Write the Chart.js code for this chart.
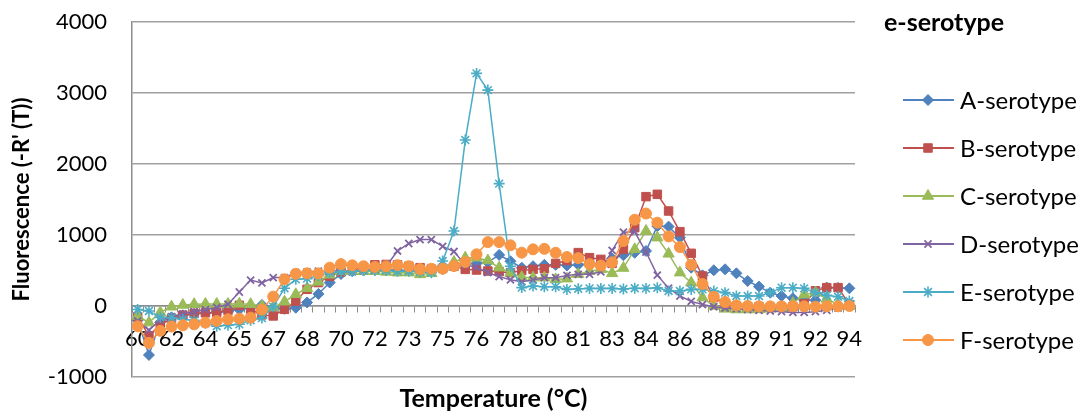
<!DOCTYPE html>
<html><head><meta charset="utf-8">
<script src="https://cdn.jsdelivr.net/npm/chart.js@4.4.0/dist/chart.umd.min.js"></script>
<style>html,body{margin:0;padding:0;background:#fff;}canvas{display:block;}</style>
</head><body>
<canvas id="c" width="1083" height="414"></canvas>
<script>
// ---- data ----
const tickLabels = ['60','62','64','65','67','68','70','72','73','75','76','78','80','81','83','84','86','88','89','91','92','94'];
const seriesNames = ['A-serotype','B-serotype','C-serotype','D-serotype','E-serotype','F-serotype'];
const legendTitle = 'e-serotype';
const xTitle = 'Temperature (°C)';
const yTitle = "Fluorescence (-R' (T))";
const yTicks = [-1000, 0, 1000, 2000, 3000, 4000];

const seriesA = [-200,-690,-230,-160,-130,-110,-100,-90,-70,-50,-20,15,-20,-40,-25,50,170,330,450,490,
  500,510,510,500,500,500,510,520,560,590,600,615,720,630,540,560,580,580,570,580,
  590,600,670,715,750,775,1125,1118,963,540,432,503,517,460,352,273,188,141,110,85,
  80,259,255,249];
const seriesB = [-150,-420,-265,-175,-130,-105,-95,-90,-60,10,-47,-125,-140,-47,70,235,330,420,480,510,
  540,580,585,580,560,540,520,530,560,516,507,493,484,470,500,516,525,600,640,752,
  681,657,600,798,1103,1540,1573,1338,1047,742,423,120,30,0,-10,-10,-20,-20,-10,30,
  215,259,259,20];
const seriesC = [-141,-234,-90,-10,15,25,28,28,28,30,25,0,-20,60,165,250,340,440,490,490,
  490,490,480,470,470,445,460,540,620,680,680,640,540,465,405,400,399,375,385,446,
  490,516,460,535,798,1056,963,735,470,329,118,0,-40,-50,-50,-50,-40,-30,40,160,
  190,100,23,0];
const seriesD = [-211,-340,-200,-150,-110,-80,-50,-20,24,197,365,325,400,400,470,480,490,500,490,480,
  500,520,560,775,880,935,935,840,767,580,545,470,414,370,340,366,399,399,431,446,
  446,480,783,1040,1045,760,435,250,141,65,20,-10,-30,-40,-50,-60,-70,-80,-90,-90,
  -80,-60,-30,-10];
const seriesE = [-50,-70,-160,-165,-190,-200,-240,-285,-270,-258,-200,-170,-9,250,376,385,430,470,480,490,
  500,500,500,490,490,480,470,634,1056,2337,3276,3041,1723,560,259,281,272,272,234,244,
  248,248,248,240,250,248,258,211,211,234,234,210,188,141,141,141,188,258,258,248,
  188,150,131,70];
const seriesF = [-285,-520,-350,-290,-272,-258,-234,-211,-187,-178,-164,-50,132,376,453,460,460,540,590,573,
  560,550,558,575,560,520,525,525,563,619,728,900,900,855,751,798,805,750,690,675,
  590,570,615,915,1215,1302,1173,980,830,580,310,130,56,10,0,-5,-5,-5,-5,-5,
  -10,-5,-5,0];

// ---- styles ----
const colors = ['#4F81BD','#C0504D','#9BBB59','#8064A2','#4BACC6','#F79646'];
const markers = [
  {style:'rectRot', r:5.5, bw:1},
  {style:'rect', r:6, bw:1},
  {style:'triangle', r:6.5, bw:1},
  {style:'crossRot', r:5, bw:1.8},
  {style:'star', r:5.5, bw:1.6},
  {style:'circle', r:5.5, bw:1}
];
const FONT = 'Lato';
const allSeries = [seriesA, seriesB, seriesC, seriesD, seriesE, seriesF];
const categories = seriesA.map((_, i) => (i % 3 === 0 ? tickLabels[i / 3] : ''));

const datasets = allSeries.map((vals, k) => ({
  label: seriesNames[k],
  data: vals,
  borderColor: colors[k],
  backgroundColor: colors[k],
  pointBackgroundColor: colors[k],
  pointBorderColor: colors[k],
  borderWidth: 1.5,
  pointStyle: markers[k].style,
  pointRadius: markers[k].r,
  pointBorderWidth: markers[k].bw,
  tension: 0,
  order: allSeries.length - k
}));

const legendPlugin = {
  id: 'excelLegend',
  afterDraw(chart) {
    const ctx = chart.ctx;
    const area = chart.chartArea;
    const x0 = area.right + 29;
    ctx.save();
    ctx.fillStyle = '#000';
    ctx.textBaseline = 'middle';
    ctx.textAlign = 'left';
    ctx.font = 'bold 25px ' + FONT;
    ctx.fillText(legendTitle, x0, 23);
    ctx.font = '24px ' + FONT;
    chart.data.datasets.forEach((ds, k) => {
      const y = 100 + 48 * k;
      ctx.strokeStyle = ds.borderColor;
      ctx.lineWidth = 2;
      ctx.beginPath();
      ctx.moveTo(x0 + 19, y);
      ctx.lineTo(x0 + 70, y);
      ctx.stroke();
      ctx.fillStyle = ds.pointBackgroundColor;
      ctx.strokeStyle = ds.pointBorderColor;
      ctx.lineWidth = ds.pointBorderWidth;
      if (Chart.helpers && Chart.helpers.drawPoint) {
        Chart.helpers.drawPoint(ctx, {pointStyle: ds.pointStyle, radius: ds.pointRadius, rotation: 0, borderWidth: ds.pointBorderWidth}, x0 + 44, y);
      } else {
        ctx.beginPath(); ctx.arc(x0 + 44, y, ds.pointRadius, 0, Math.PI * 2); ctx.fill();
      }
      ctx.fillStyle = '#000';
      ctx.fillText(ds.label, x0 + 76, y + 1);
    });
    ctx.restore();
  }
};

new Chart(document.getElementById('c'), {
  type: 'line',
  data: { labels: categories, datasets },
  plugins: [legendPlugin],
  options: {
    responsive: false,
    animation: false,
    devicePixelRatio: 1,
    layout: { padding: { top: 22, right: 228, left: 0, bottom: 0 } },
    plugins: {
      legend: { display: false },
      tooltip: { enabled: false },
      title: {
        display: true,
        text: xTitle,
        position: 'bottom',
        fullSize: false,
        color: '#000',
        font: { family: FONT, size: 25, weight: 'bold' },
        padding: { top: 7, bottom: 0 }
      }
    },
    scales: {
      x: {
        type: 'category',
        position: { y: 0 },
        offset: true,
        grid: { display: true, drawOnChartArea: false, drawTicks: true, tickLength: 6, offset: true, color: '#8c8c8c', lineWidth: 1 },
        border: { display: true, color: '#8c8c8c', width: 1.5 },
        ticks: {
          autoSkip: false, maxRotation: 0, minRotation: 0, padding: 14,
          color: '#000', font: { family: FONT, size: 22 },
          callback: (v, i) => categories[i]
        }
      },
      y: {
        min: -1000, max: 4000,
        afterFit: (s) => { s.width = 132; },
        afterBuildTicks: (s) => { s.ticks = yTicks.map(v => ({ value: v })); },
        grid: { color: '#a0a0a0', lineWidth: 1.5, drawTicks: true, tickLength: 25, tickColor: 'rgba(0,0,0,0)' },
        border: { display: true, color: '#8c8c8c', width: 1.5 },
        ticks: { padding: 0, color: '#000', font: { family: FONT, size: 22 }, callback: (v) => String(v) },
        title: {
          display: true, text: yTitle, color: '#000',
          font: { family: FONT, size: 22, weight: 'bold' },
          padding: { top: 9, bottom: 0 }
        }
      }
    }
  }
});
</script>
</body></html>
